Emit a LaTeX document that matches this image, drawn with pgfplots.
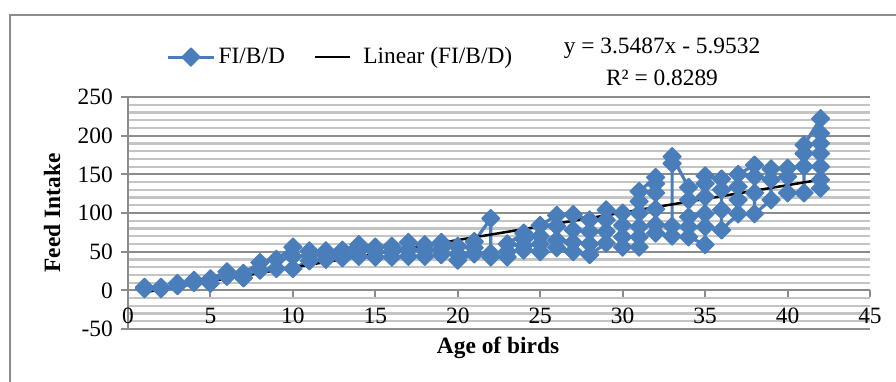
\documentclass[border=0pt]{standalone}
\usepackage{pgfplots}
\pgfplotsset{compat=1.18}
\usepackage{fontspec}
\setmainfont{Liberation Serif}
\definecolor{serblue}{HTML}{4A7EBB}
\definecolor{majgrid}{HTML}{8C8C8C}
\definecolor{mingrid}{HTML}{C4C4C4}
\definecolor{framec}{HTML}{8C8C8C}
\pgfplotsset{
  legA/.style={legend image code/.code={\draw[mark repeat=2,mark phase=2,##1] plot coordinates {(0pt,0pt) (11.5pt,0pt) (23pt,0pt)};}},
  legB/.style={legend image code/.code={\draw[##1] (0pt,0pt) -- (17.5pt,0pt); \path (22pt,0pt);}},
}
\pgfplotstableread{
x y
1 2
1 4
2 4
2 2
3 6
3 9
4 13
4 10
5 9
5 15
6 24
6 18
7 16
7 22
8 36
8 26
9 28
9 40
10 56
10 44
10 28
11 38
11 45
11 51
12 51
12 46
12 40
13 42
13 48
13 52
14 59
14 52
14 44
15 43
15 50
15 56
16 57
16 50
16 43
17 44
17 53
17 62
18 59
18 52
18 44
19 46
19 54
19 62
20 57
20 47
20 39
21 47
21 55
21 63
22 93
22 48
22 43
23 43
23 50
23 60
24 74
24 66
24 58
24 52
25 50
25 60
25 70
25 84
26 97
26 83
26 65
26 55
27 50
27 62
27 78
27 98
28 91
28 76
28 60
28 46
29 61
29 76
29 91
29 104
30 100
30 84
30 69
30 56
31 56
31 69
31 82
31 100
31 115
31 128
32 146
32 138
32 126
32 105
32 85
32 74
33 70
33 83
33 164
33 173
34 133
34 117
34 95
34 82
34 69
35 59
35 82
35 99
35 121
35 138
35 148
36 144
36 130
36 104
36 78
37 99
37 117
37 134
37 150
38 162
38 147
38 126
38 99
39 117
39 143
39 157
40 158
40 147
40 126
41 126
41 160
41 177
41 188
42 222
42 203
42 190
42 177
42 160
42 143
42 132
}\fidata
\begin{document}
\fontsize{11.7}{14}\selectfont
\begin{tikzpicture}
\path[use as bounding box] (0,0) rectangle (448pt,190.5pt);
\draw[framec, line width=1pt] (5pt,-2pt) -- (5pt,183pt) -- (450pt,183pt);
\begin{axis}[
  at={(64pt,26pt)}, anchor=south west,
  scale only axis, width=371pt, height=116pt,
  xmin=0, xmax=45, ymin=-50, ymax=250,
  axis x line*=middle, axis y line*=left,
  xtick={0,5,...,45}, ytick={-50,0,...,250},
  xticklabels={0,5,10,15,20,25,30,35,40,45},
  yticklabels={-50,0,50,100,150,200,250},
  xticklabel style={yshift=-1.2pt},
  minor ytick={-40,-30,...,240},
  ymajorgrids, yminorgrids,
  major grid style={majgrid, line width=1pt},
  minor grid style={mingrid, line width=1.1pt},
  tick align=outside, major tick length=3.5pt, minor tick length=0pt,
  axis line style={majgrid, line width=1pt},
  tick style={majgrid, line width=1pt},
  hide obscured x ticks=false, hide obscured y ticks=false,
  xlabel={Age of birds}, ylabel={Feed Intake},
  xlabel style={at={(axis description cs:0.4987,-0.0819)}, anchor=center, font=\bfseries},
  ylabel style={at={(axis description cs:-0.1024,0.5)}, anchor=center, font=\bfseries},
  legend columns=2,
  legend style={at={(axis description cs:0.0512,1.172)}, anchor=west, draw=none, fill=none,
    inner sep=0pt, nodes={inner sep=0pt},
    /tikz/every odd column/.append style={column sep=1.5pt},
    /tikz/every even column/.append style={column sep=14.5pt}},
  legend cell align=left,
]
\addplot[serblue, line width=1.6pt, line join=round, mark=square*, mark size=3.2pt,
  mark options={rotate=45, fill=serblue, draw=serblue, line width=0.6pt}, legA
  ] table[x=x,y=y] {\fidata};
\addlegendentry{FI/B/D}
\addplot[black, line width=1.25pt, legB] coordinates {(1,-2.4045) (42,143.0922)};
\addlegendentry{Linear (FI/B/D)}
\end{axis}
\node at (331pt,166.5pt) {y = 3.5487x - 5.9532};
\node at (331pt,151.5pt) {R² = 0.8289};
\end{tikzpicture}
\end{document}
